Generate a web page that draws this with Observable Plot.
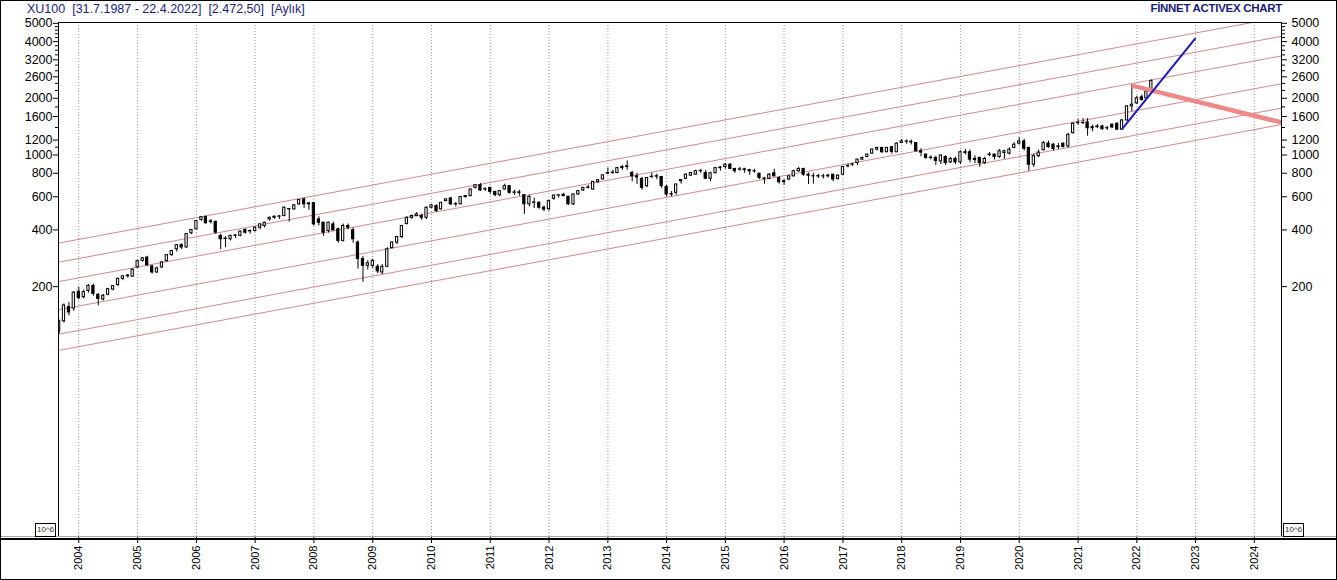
<!DOCTYPE html>
<html><head><meta charset="utf-8">
<script src="https://cdn.jsdelivr.net/npm/d3@7"></script>
<script src="https://cdn.jsdelivr.net/npm/@observablehq/plot@0.6"></script>
<style>
body{margin:0;background:#fff;}
#wrap{position:relative;width:1337px;height:580px;overflow:hidden;background:#fff;font-family:"Liberation Sans",Arial,sans-serif;}
#chart{position:absolute;left:0;top:0;}
.hdr{position:absolute;left:27px;top:2px;font-size:12.5px;color:#1c1c78;white-space:pre;}
.brand{position:absolute;right:55px;top:2px;font-size:11.5px;font-weight:bold;letter-spacing:-0.3px;color:#1c1c78;}
.gline{position:absolute;left:0;top:536px;width:1337px;height:1px;background:#a8a8a8;}
.bline{position:absolute;left:0;top:538px;width:1337px;height:2px;background:#000;}
.exp{position:absolute;top:523px;width:19px;height:12px;border:1px solid #000;font-size:8px;line-height:12px;text-align:center;background:#fff;color:#333;}
.border{position:absolute;left:0;top:0;width:1337px;height:580px;box-sizing:border-box;border:1px solid #000;pointer-events:none;}
</style></head><body>
<div id="wrap">
<div id="chart"></div>
<div class="hdr">XU100  [31.7.1987 - 22.4.2022]  [2.472,50]  [Aylık]</div>
<div class="brand">FİNNET ACTIVEX CHART</div>
<div class="gline"></div><div class="bline"></div>
<div class="exp" style="left:35px">10^6</div>
<div class="exp" style="left:1283px">10^6</div>
<div class="border"></div>
</div>
<script>
// Monthly candles, first month Sep 2003, last Apr 2022
const firstMonth = "2003-09-01";
const open = [
 116,131,156,153,
 188,176,190,202,181,171,181,193,204,220,227,226,
 253,274,285,256,238,253,273,294,316,332,323,384,
 403,452,469,441,441,372,358,357,372,372,400,393,
 395,411,420,455,464,470,474,517,514,547,581,547,
 555,455,437,395,428,403,350,420,398,343,280,258,
 258,255,238,255,320,343,367,430,464,474,474,464,
 525,535,515,569,588,547,547,598,605,669,691,656,
 669,637,612,656,683,630,633,612,547,557,557,525,
 515,585,609,615,600,547,617,648,669,656,717,741,
 795,802,802,852,863,802,770,747,683,764,767,764,
 677,617,630,726,747,777,786,820,802,748,800,852,
 863,888,843,836,839,830,820,795,747,747,800,755,
 717,741,770,820,843,786,770,772,769,770,786,747,
 786,870,888,906,945,976,1017,1068,1089,1034,1100,1034,
 1157,1180,1175,1157,1046,1005,964,964,925,976,914,953,
 914,1034,1034,953,964,905,1000,1005,976,1025,1017,1090,
 1148,1180,1089,888,985,1060,1150,1134,1100,1148,1111,1306,
 1477,1477,1488,1388,1405,1417,1385,1448,1465,1362,1525,1811,
 1880,2023,1999,2212];
const high = [
 133,162,165,188,
 198,192,205,206,184,182,196,203,222,229,232,248,
 276,286,290,260,254,272,296,312,334,338,383,402,
 450,472,474,455,446,380,368,375,378,395,405,400,
 415,432,440,468,475,478,530,520,545,580,590,560,
 560,470,440,440,440,410,430,430,410,350,290,275,
 280,262,262,322,345,370,420,470,480,495,485,530,
 545,545,560,585,595,560,600,610,660,695,705,670,
 672,640,648,700,690,650,650,615,610,590,565,535,
 575,612,615,625,605,620,645,672,690,722,740,785,
 852,830,860,880,930,820,800,760,760,800,790,770,
 690,640,700,740,795,810,830,840,830,810,860,870,
 900,900,850,860,850,840,840,800,760,795,840,765,
 740,775,830,860,850,802,800,790,790,790,790,785,
 870,895,905,950,975,1010,1075,1100,1100,1100,1110,1160,
 1210,1200,1200,1165,1080,1010,990,985,1000,990,970,975,
 1050,1070,1065,990,975,975,1030,1010,1070,1060,1090,1160,
 1235,1210,1100,1010,1060,1180,1185,1150,1150,1160,1300,1480,
 1545,1560,1560,1440,1450,1440,1420,1460,1480,1540,1830,2351,
 2050,2080,2200,2500];
const low = [
 112,128,140,148,
 170,172,185,178,158,168,179,190,200,215,222,224,
 250,270,256,233,235,250,270,290,305,315,320,378,
 400,445,430,430,380,315,322,350,360,368,380,380,
 390,400,410,445,455,455,470,440,510,540,520,508,
 420,420,370,385,395,340,345,400,340,248,211,245,
 250,235,232,252,318,335,360,425,455,470,450,455,
 520,495,510,565,540,530,545,590,600,660,640,640,
 620,600,600,650,620,610,605,484,530,520,515,500,
 504,575,590,600,540,540,612,640,660,650,710,738,
 786,790,795,830,830,720,697,650,670,750,740,665,
 600,600,612,700,740,770,780,800,740,720,795,820,
 840,840,800,820,800,780,800,740,700,740,765,700,
 690,730,765,810,770,697,700,750,745,755,720,735,
 780,855,870,880,935,965,1010,1050,1020,1030,1010,1030,
 1150,1140,1130,1040,980,950,940,880,890,880,900,890,
 890,1000,910,900,860,890,980,940,960,950,1000,1080,
 1130,1050,820,860,970,1050,1085,1050,1070,1090,1090,1290,
 1440,1450,1259,1330,1380,1350,1350,1380,1360,1350,1510,1700,
 1850,1930,1980,2200];
const close = [
 131,159,146,186,
 174,187,202,183,172,179,194,201,220,227,229,246,
 273,283,260,238,250,269,294,309,332,323,380,400,
 446,467,434,444,387,357,360,372,374,392,387,395,
 411,428,437,464,470,472,525,514,540,576,547,553,
 428,437,387,437,398,350,420,411,357,280,258,266,
 274,241,255,316,343,367,420,464,474,484,464,525,
 540,504,557,581,547,549,598,605,656,691,648,659,
 637,612,643,683,630,633,629,547,598,560,525,513,
 569,609,611,605,547,617,643,669,672,720,735,780,
 802,805,852,863,870,770,761,669,755,767,772,683,
 617,620,697,735,786,802,820,822,748,800,852,857,
 888,843,820,839,834,820,818,755,750,786,770,717,
 726,770,820,843,786,777,772,769,771,777,741,777,
 863,873,891,945,964,1005,1068,1089,1034,1089,1040,1148,
 1180,1177,1166,1046,1030,964,967,930,993,906,953,914,
 1034,1025,945,940,905,953,1005,976,1046,1046,1068,1134,
 1180,1080,888,985,1030,1157,1100,1076,1111,1102,1280,1465,
 1480,1480,1388,1405,1417,1371,1388,1400,1362,1525,1811,1849,
 1999,1959,2168,2472];

// Parallel channel lines (value at left start date and at right end date)
const channelStartDate = "2003-09-01";
const channelEndDate = "2024-06-19";
const channelStart = [341, 270, 213, 151, 112, 91.9];
const channelEnd = [5394, 4266, 3358, 2389, 1773, 1451];

// Blue trend line and pink line
const blueDates = ["2021-10-01", "2023-01-01"];
const blueValues = [1372, 4175];
const pinkDates = ["2021-12-01", "2024-06-19"];
const pinkValues = [2334, 1488];

// Axis ticks
const years = [2004,2005,2006,2007,2008,2009,2010,2011,2012,2013,2014,2015,2016,2017,2018,2019,2020,2021,2022,2023,2024];
const yMajor = [200, 400, 600, 800, 1000, 1200, 1600, 2000, 2600, 3200, 4000, 5000];
const yMinor = [1100, 1400, 1800, 2200, 2400, 2800, 3000, 3400, 3600, 3800, 4200, 4400, 4600, 4800];

const xDomain = [new Date("2003-08-28"), new Date("2024-06-18")];
const yDomain = [9.32, 5050];

const candles = open.map((o, i) => ({
  date: d3.utcMonth.offset(new Date(firstMonth), i),
  open: o, high: high[i], low: low[i], close: close[i]
}));
const channels = channelStart.map((v, i) => ({d1: new Date(channelStartDate), v1: v, d2: new Date(channelEndDate), v2: channelEnd[i]}));
const blue = [{d1: new Date(blueDates[0]), v1: blueValues[0], d2: new Date(blueDates[1]), v2: blueValues[1]}];
const pink = [{d1: new Date(pinkDates[0]), v1: pinkValues[0], d2: new Date(pinkDates[1]), v2: pinkValues[1]}];
const yearDates = years.map(y => new Date(Date.UTC(y, 0, 1)));

const chart = Plot.plot({
  width: 1337, height: 580,
  marginLeft: 58, marginRight: 56, marginTop: 22, marginBottom: 43,
  x: {type: "utc", domain: xDomain, axis: null},
  y: {type: "log", domain: yDomain, axis: null},
  color: {type: "identity"},
  style: {fontFamily: "'Liberation Sans', Arial, sans-serif", background: "transparent", color: "black", overflow: "visible"},
  marks: [
    Plot.gridX(yearDates, {stroke: "#999", strokeOpacity: 1, strokeDasharray: "1,2"}),
    Plot.link(channels, {x1: "d1", y1: "v1", x2: "d2", y2: "v2", stroke: "#d98686", strokeWidth: 1, clip: true}),
    Plot.ruleX(candles, {x: "date", y1: "low", y2: "high", stroke: "black", strokeWidth: 1, clip: true}),
    Plot.rect(candles, {
      x1: d => d3.utcDay.offset(d.date, -7), x2: d => d3.utcDay.offset(d.date, 7),
      y1: "open", y2: "close",
      fill: d => d.close >= d.open ? "white" : "black",
      stroke: "black", strokeWidth: 1, clip: true
    }),
    Plot.link(pink, {x1: "d1", y1: "v1", x2: "d2", y2: "v2", stroke: "#f08888", strokeWidth: 4.5, clip: true}),
    Plot.link(blue, {x1: "d1", y1: "v1", x2: "d2", y2: "v2", stroke: "#1a1ac8", strokeWidth: 2, clip: true}),
    Plot.ruleX(xDomain, {stroke: "black"}),
    Plot.ruleY([yDomain[1]], {stroke: "black"}),
    // tick marks
    Plot.axisY({anchor: "left", ticks: yMajor, tickFormat: () => "", tickSize: 5}),
    Plot.axisY({anchor: "left", ticks: yMinor, tickFormat: () => "", tickSize: 3}),
    Plot.axisY({anchor: "right", ticks: yMajor, tickFormat: () => "", tickSize: 5}),
    Plot.axisY({anchor: "right", ticks: yMinor, tickFormat: () => "", tickSize: 3}),
    // tick labels
    Plot.text(yMajor, {y: d => d, text: d => String(d), frameAnchor: "left", textAnchor: "end", dx: -6, fontSize: 12.5, fill: "black"}),
    Plot.text(yMajor, {y: d => d, text: d => String(d), frameAnchor: "right", textAnchor: "start", dx: 10, fontSize: 12.5, fill: "black"}),
    Plot.axisX({ticks: yearDates, tickFormat: d3.utcFormat("%Y"), tickRotate: -90, tickSize: 6, tickPadding: 2, fontSize: 11})
  ]
});
document.getElementById("chart").appendChild(chart);
</script>
</body></html>
